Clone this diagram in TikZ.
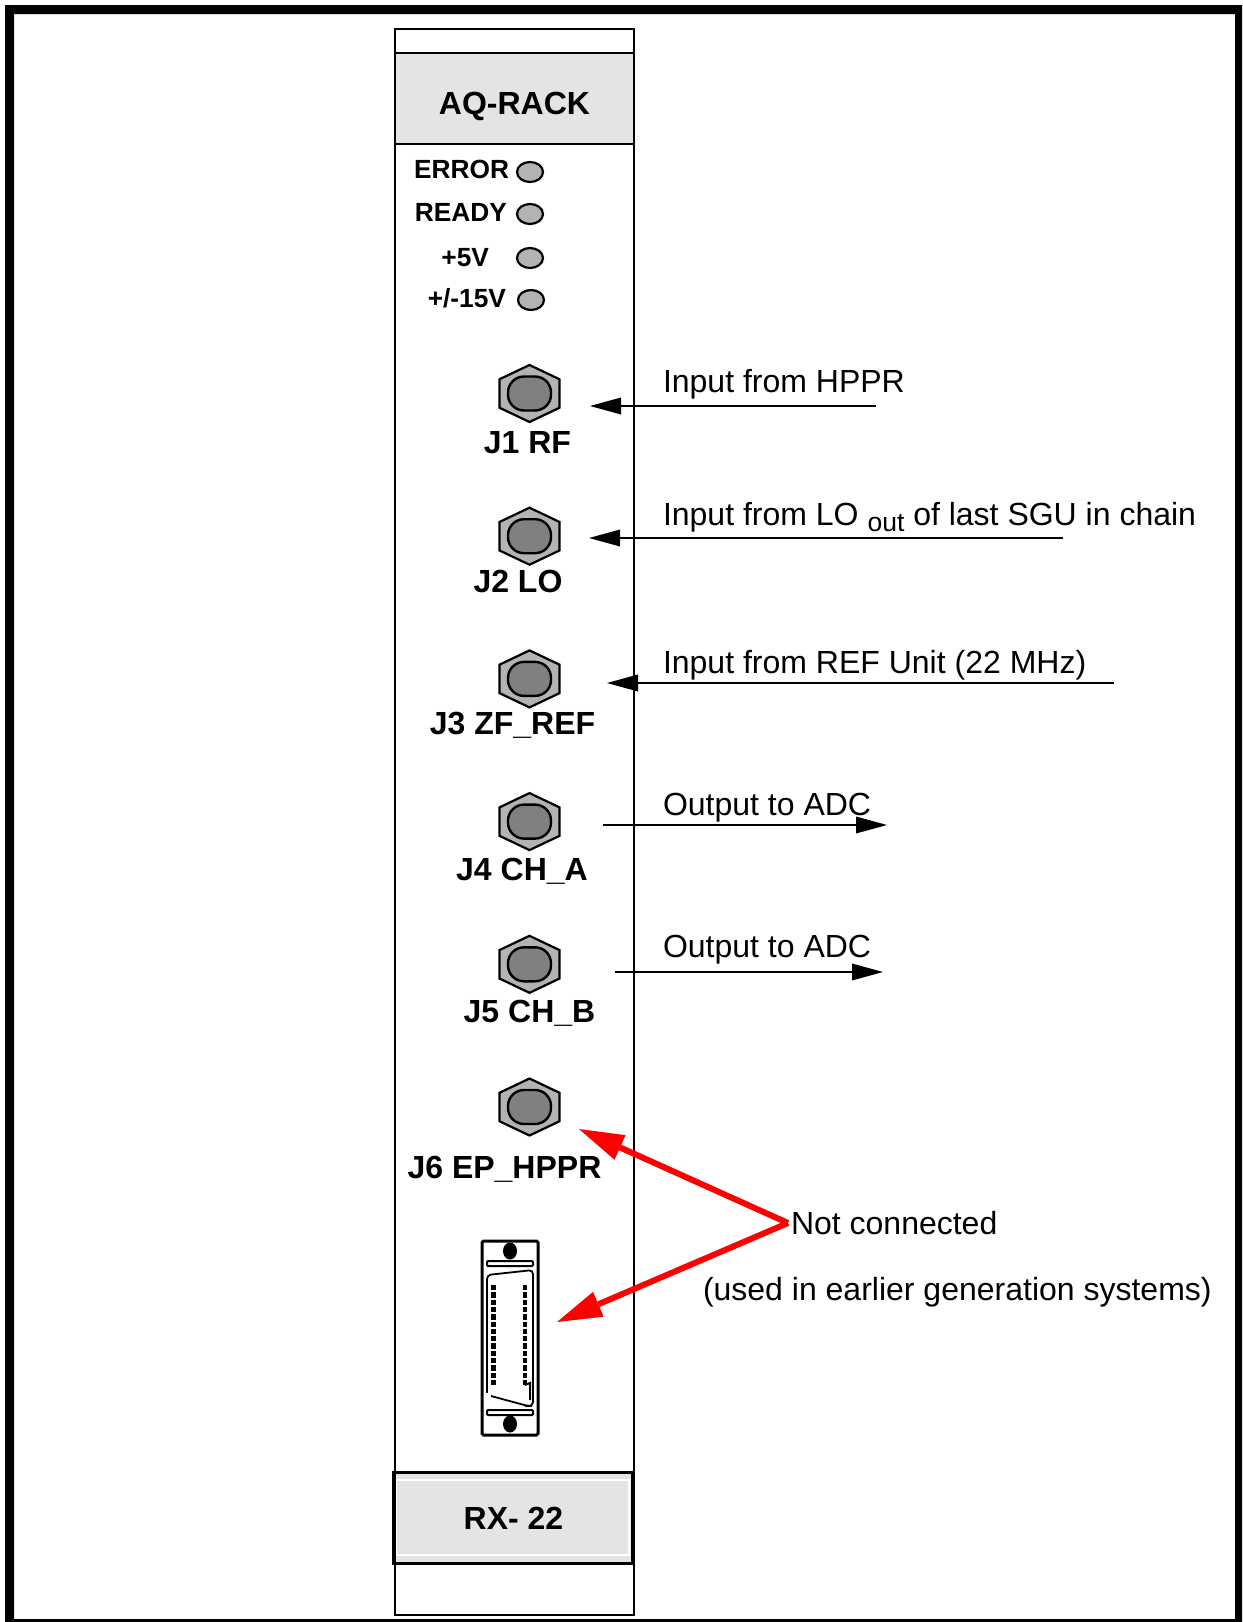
\documentclass[tikz,border=0pt]{standalone}
\usepackage{fontspec}
\setmainfont{Liberation Sans}
\usepackage{tikz}
\usetikzlibrary{shapes,arrows.meta,positioning,calc}
\definecolor{panelgray}{HTML}{E4E4E4}
\definecolor{hexgray}{HTML}{B3B3B3}
\definecolor{coregray}{HTML}{808080}
\tikzstyle{panel} = [draw, line width=2.4pt, rectangle, inner sep=0pt, outer sep=0pt, minimum width=239pt]
\tikzstyle{boldtext} = [inner sep=0pt, outer sep=0pt, font=\fontsize{32}{36}\selectfont\bfseries, text height=23pt, text depth=0pt]
\tikzstyle{ledtext} = [inner sep=0pt, outer sep=0pt, font=\fontsize{26.3}{30}\selectfont\bfseries, text height=19pt, text depth=0pt]
\tikzstyle{note} = [inner sep=0pt, outer sep=0pt, anchor=west, font=\fontsize{32}{36}\selectfont, text height=23pt, text depth=0pt]
\tikzstyle{led} = [draw, ellipse, line width=2.2pt, fill=hexgray, inner sep=0pt, outer sep=0pt, minimum width=26pt, minimum height=20pt]
\tikzstyle{jackhex} = [draw, regular polygon, regular polygon sides=6, shape border rotate=30, line width=2.2pt, fill=hexgray, inner sep=0pt, outer sep=0pt, minimum size=57pt, xscale=1.215, transform shape]
\tikzstyle{jackcore} = [draw, rectangle, rounded corners=16pt, line width=2.4pt, fill=coregray, inner sep=0pt, outer sep=0pt, minimum width=43pt, minimum height=34pt]
\tikzstyle{screw} = [fill=black, ellipse, inner sep=0pt, outer sep=0pt, minimum width=14pt, minimum height=17pt]
\tikzstyle{dbar} = [draw, rectangle, rounded corners=1pt, fill=white, line width=2pt, inner sep=0pt, outer sep=0pt, minimum width=46pt, minimum height=5pt]
\tikzstyle{line} = [draw, line width=2.4pt, -{Triangle[length=31pt,width=17pt,line width=0pt]}]
\tikzstyle{redline} = [draw, red, line width=6pt, -{Triangle[length=45pt,width=27pt,line width=0pt]}]
\tikzstyle{pins} = [draw, line width=4.4pt, dash pattern=on 5.3pt off 2pt]

\begin{document}
\begin{tikzpicture}[x=1pt, y=-1pt]
    \useasboundingbox (0,0) rectangle (1242,1622);
    % Outer frame
    \fill [even odd rule] (5,5) rectangle (1242,1622) (14,14) rectangle (1235,1619);

    % Panel
    \node [panel, minimum height=1586pt] (rack) at (514.5,822) {};
    \node [panel, fill=panelgray, minimum height=91pt, below=24pt of rack.north] (aqhead) {};
    \node [boldtext] (aqtext) at ([yshift=-4pt]aqhead.center) {AQ-RACK};

    % LEDs
    \node [led] (led1) at (530,172) {};
    \node [led] (led2) at (530,214) {};
    \node [led] (led3) at (530,258) {};
    \node [led] (led4) at (531,300) {};
    \node [ledtext, left=8pt of led1, yshift=3.5pt] (ledtxt1) {ERROR};
    \node [ledtext, left=10pt of led2, yshift=2pt] (ledtxt2) {READY};
    \node [ledtext, left=28pt of led3, yshift=1pt] (ledtxt3) {+5V};
    \node [ledtext, left=12pt of led4, yshift=2pt] (ledtxt4) {+/-15V};

    % Jacks
    \node [jackhex] (j1) at (529.5,393.5) {};
    \node [jackhex, on grid, below=142.7pt of j1] (j2) {};
    \node [jackhex, on grid, below=142.7pt of j2] (j3) {};
    \node [jackhex, on grid, below=142.7pt of j3] (j4) {};
    \node [jackhex, on grid, below=142.7pt of j4] (j5) {};
    \node [jackhex, on grid, below=142.7pt of j5] (j6) {};
    \node [jackcore] (core1) at (j1) {};
    \node [jackcore] (core2) at (j2) {};
    \node [jackcore] (core3) at (j3) {};
    \node [jackcore] (core4) at (j4) {};
    \node [jackcore] (core5) at (j5) {};
    \node [jackcore] (core6) at (j6) {};
    \node [boldtext, below=8.5pt of j1.south, xshift=-2pt] (jtxt1) {J1 RF};
    \node [boldtext, below=5pt of j2.south, xshift=-11.5pt] (jtxt2) {J2 LO};
    \node [boldtext, below=4pt of j3.south, xshift=-17pt] (jtxt3) {J3 ZF\_REF};
    \node [boldtext, below=7pt of j4.south, xshift=-7.5pt] (jtxt4) {J4 CH\_A};
    \node [boldtext, below=6.5pt of j5.south, xshift=0pt] (jtxt5) {J5 CH\_B};
    \node [boldtext, below=19.5pt of j6.south, xshift=-25pt] (jtxt6) {J6 EP\_HPPR};

    % Sub-D connector
    \draw [line width=3pt, rounded corners=1.5pt] (482,1241) rectangle (538,1435);
    \node [screw] (screwtop) at (510,1251) {};
    \node [screw] (screwbot) at (510,1424) {};
    \node [dbar] (bartop) at (510,1263.5) {};
    \node [dbar] (barbot) at (510,1412.5) {};
    \draw [line width=2.2pt] (503,1261) -- (517,1261);
    \draw [line width=2.2pt] (503,1415) -- (517,1415);
    \draw [line width=1.8pt, rounded corners=4pt] (487,1282) -- (487,1275) -- (533,1270) -- (533,1406) -- (528,1406) -- (491,1396);
    \draw [line width=2.4pt] (487,1279) -- (487,1393);
    \path [pins] (493.5,1285) -- (493.5,1385);
    \path [pins] (525,1285) -- (525,1385);
    \draw [line width=2pt] (525,1385) -- (530,1383) -- (530,1400);

    % Label block
    \node [panel, line width=3.4pt, fill=panelgray, minimum width=239pt, minimum height=91pt] (rxbox) at (513.5,1518) {};
    \node [boldtext] (rxtext) at (513.5,1518) {RX- 22};
    \draw [white, line width=1.3pt] (396.5,1480) rectangle (629,1555);

    % Notes
    \node [note] (hpprnote) at (663,381) {Input from HPPR};
    \node [note] (lonote) at (663,514) {Input from LO {\fontsize{26.5}{26.5}\selectfont\raisebox{-6pt}{out}} of last SGU in chain};
    \node [note] (refnote) at (663,661.5) {Input from REF Unit (22 MHz)};
    \node [note] (adcnotea) at (663,803.5) {Output to ADC};
    \node [note] (adcnoteb) at (663,945.5) {Output to ADC};
    \node [note] (notconn) at (791,1223) {Not connected};
    \node [note] (usednote) at (703,1289) {(used in earlier generation systems)};

    % Ends of the connectors
    \coordinate (hpprend) at (876,406);
    \coordinate (j1end) at (590,406);
    \coordinate (loend) at (1063,538);
    \coordinate (j2end) at (589,538);
    \coordinate (refend) at (1114,683);
    \coordinate (j3end) at (607,683);
    \coordinate (j4end) at (603,825);
    \coordinate (adcenda) at (887,825);
    \coordinate (j5end) at (615,972);
    \coordinate (adcendb) at (883,972);
    \coordinate (j6end) at (579,1129);
    \coordinate (dsubend) at (557,1322);

    % Paths
    \path [line] (hpprend) -- (j1end);
    \path [line] (loend) -- (j2end);
    \path [line] (refend) -- (j3end);
    \path [line] (j4end) -- (adcenda);
    \path [line] (j5end) -- (adcendb);
    \path [redline] ([xshift=-3pt]notconn.west) -- (j6end);
    \path [redline] ([xshift=-3pt]notconn.west) -- (dsubend);
\end{tikzpicture}
\end{document}
